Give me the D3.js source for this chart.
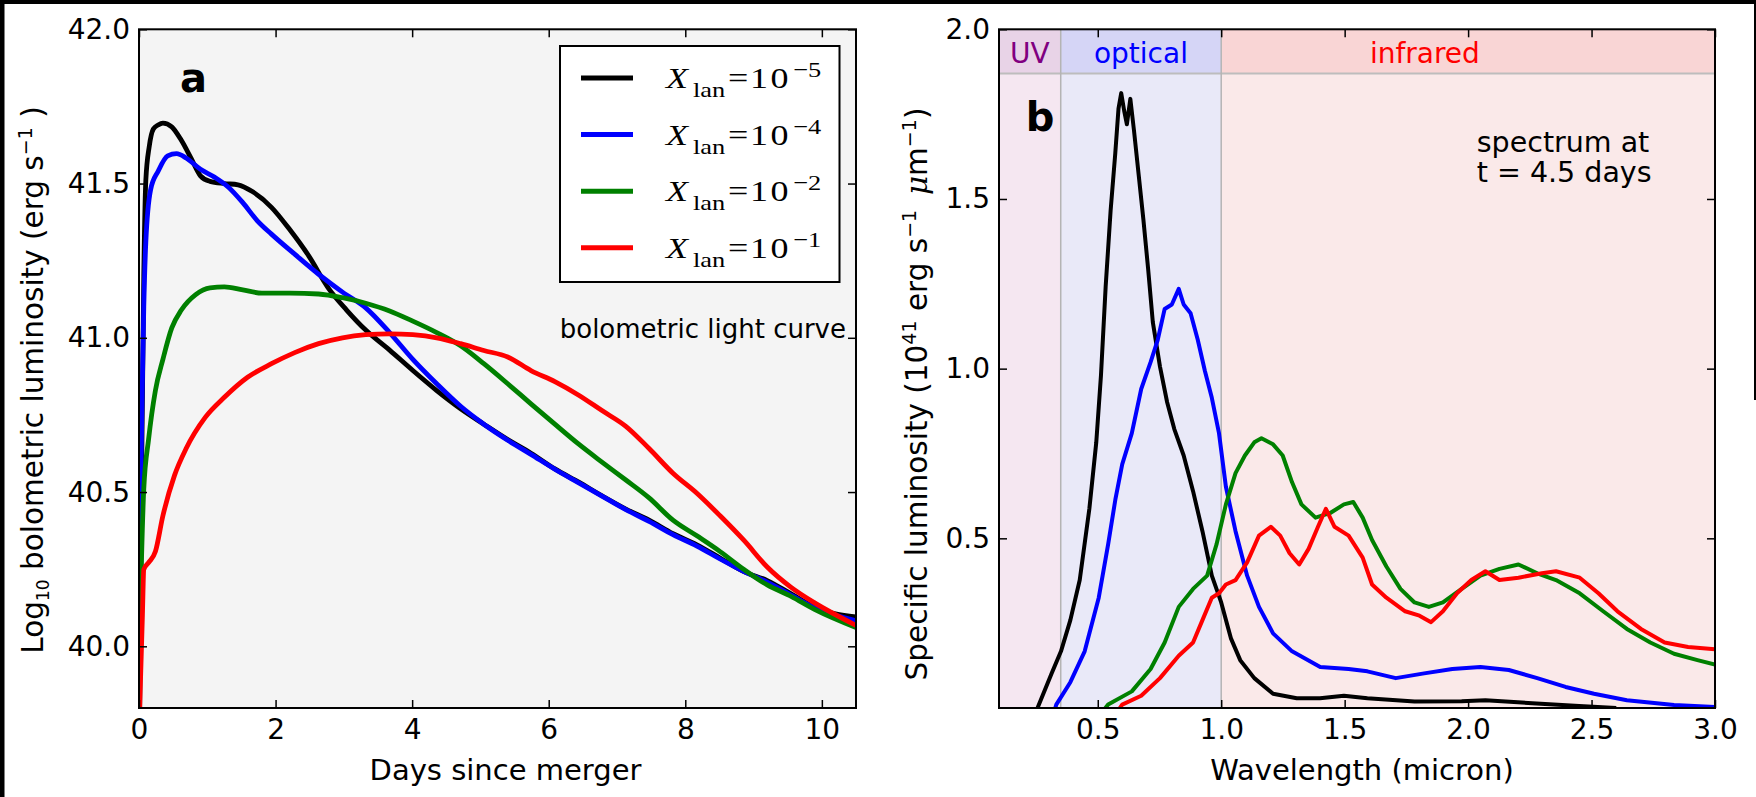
<!DOCTYPE html>
<html>
<head>
<meta charset="utf-8">
<script src="https://cdn.jsdelivr.net/npm/d3@7"></script>
<style>
  body { margin: 0; background: #fff; }
  svg { display: block; font-family: "DejaVu Sans", sans-serif; }
</style>
</head>
<body>
<div id="content"></div>
<script>
// Données

// panel a : bolometric light curves [days, log10 L]
var lcBlack = [[0.01,39.8],[0.04,40.6],[0.07,41.2],[0.1,41.51],[0.15,41.62],[0.21,41.677],[0.28,41.69],[0.35,41.696],[0.48,41.684],[0.62,41.64],[0.76,41.583],[0.9,41.525],[1.04,41.507],[1.25,41.5],[1.45,41.496],[1.66,41.474],[1.94,41.423],[2.21,41.35],[2.49,41.264],[2.77,41.162],[3.04,41.09],[3.32,41.025],[3.67,40.96],[4.01,40.894],[4.36,40.829],[4.71,40.77],[5.05,40.72],[5.4,40.67],[5.74,40.626],[6.09,40.575],[6.44,40.532],[6.78,40.488],[7.13,40.445],[7.47,40.409],[7.82,40.365],[8.17,40.329],[8.51,40.286],[8.86,40.242],[9.2,40.213],[9.55,40.17],[9.9,40.126],[10.5,40.095]];
var lcBlue  = [[0.01,40.3],[0.04,40.73],[0.07,41.1],[0.1,41.31],[0.17,41.48],[0.28,41.54],[0.42,41.59],[0.55,41.597],[0.69,41.583],[0.9,41.546],[1.11,41.52],[1.31,41.488],[1.52,41.438],[1.73,41.38],[1.94,41.336],[2.28,41.271],[2.63,41.206],[2.98,41.148],[3.32,41.097],[3.67,41.017],[4.01,40.93],[4.36,40.851],[4.71,40.778],[5.05,40.72],[5.4,40.668],[5.74,40.622],[6.09,40.574],[6.44,40.53],[6.78,40.487],[7.13,40.443],[7.47,40.405],[7.82,40.362],[8.17,40.325],[8.51,40.283],[8.86,40.242],[9.2,40.208],[9.55,40.166],[9.9,40.124],[10.5,40.083]];
var lcGreen = [[0.01,40.05],[0.07,40.51],[0.14,40.67],[0.24,40.829],[0.35,40.93],[0.48,41.032],[0.62,41.09],[0.83,41.14],[1.04,41.162],[1.25,41.165],[1.52,41.155],[1.8,41.145],[2.21,41.145],[2.63,41.142],[2.98,41.13],[3.32,41.112],[3.67,41.087],[4.01,41.054],[4.36,41.017],[4.71,40.974],[5.05,40.916],[5.4,40.851],[5.74,40.786],[6.09,40.72],[6.44,40.655],[6.78,40.597],[7.13,40.539],[7.47,40.481],[7.82,40.409],[8.17,40.358],[8.51,40.307],[8.86,40.249],[9.2,40.199],[9.55,40.162],[9.9,40.119],[10.5,40.061]];
var lcRed   = [[0.01,39.8],[0.05,40.1],[0.07,40.249],[0.14,40.271],[0.24,40.307],[0.35,40.423],[0.52,40.554],[0.69,40.641],[0.97,40.742],[1.25,40.807],[1.59,40.872],[1.94,40.916],[2.28,40.952],[2.63,40.981],[2.98,41.0],[3.32,41.01],[3.67,41.013],[4.01,41.01],[4.36,41.0],[4.71,40.981],[5.05,40.959],[5.4,40.938],[5.74,40.894],[6.09,40.858],[6.44,40.814],[6.78,40.764],[7.13,40.713],[7.47,40.641],[7.82,40.561],[8.17,40.496],[8.51,40.423],[8.86,40.343],[9.2,40.257],[9.55,40.191],[9.9,40.14],[10.5,40.068]];

// panel b : spectra at t = 4.5 days [micron, 1e41 erg/s/um]
var spBlack = [[0.24,-0.02],[0.256,0.0],[0.313,0.102],[0.351,0.167],[0.389,0.259],[0.427,0.377],[0.466,0.587],[0.494,0.783],[0.513,0.98],[0.532,1.242],[0.552,1.465],[0.571,1.635],[0.584,1.766],[0.595,1.812],[0.607,1.76],[0.618,1.72],[0.632,1.795],[0.647,1.70],[0.666,1.569],[0.685,1.438],[0.704,1.294],[0.723,1.137],[0.752,1.006],[0.781,0.901],[0.81,0.822],[0.848,0.744],[0.886,0.639],[0.924,0.521],[0.962,0.39],[1.0,0.311],[1.039,0.206],[1.077,0.141],[1.134,0.088],[1.21,0.042],[1.306,0.029],[1.40,0.029],[1.497,0.036],[1.592,0.029],[1.783,0.019],[1.974,0.02],[2.07,0.023],[2.26,0.014],[2.45,0.006],[2.6,0.0]];
var spBlue  = [[0.32,-0.02],[0.332,0.01],[0.389,0.076],[0.447,0.167],[0.504,0.325],[0.542,0.482],[0.571,0.613],[0.599,0.718],[0.638,0.81],[0.676,0.94],[0.714,1.019],[0.743,1.085],[0.771,1.176],[0.80,1.189],[0.828,1.235],[0.848,1.189],[0.876,1.163],[0.905,1.085],[0.934,0.993],[0.962,0.914],[0.991,0.81],[1.019,0.652],[1.058,0.521],[1.105,0.39],[1.153,0.298],[1.21,0.22],[1.287,0.167],[1.401,0.121],[1.516,0.115],[1.592,0.108],[1.707,0.088],[1.822,0.102],[1.936,0.115],[2.05,0.121],[2.165,0.112],[2.28,0.088],[2.395,0.062],[2.51,0.042],[2.643,0.023],[2.834,0.009],[3.0,0.003]];
var spGreen = [[0.52,-0.01],[0.542,0.01],[0.638,0.049],[0.714,0.115],[0.771,0.193],[0.828,0.298],[0.886,0.351],[0.943,0.39],[0.981,0.482],[1.019,0.6],[1.058,0.692],[1.096,0.744],[1.134,0.783],[1.163,0.795],[1.21,0.777],[1.249,0.744],[1.287,0.665],[1.325,0.6],[1.382,0.561],[1.44,0.574],[1.497,0.60],[1.535,0.607],[1.573,0.561],[1.611,0.495],[1.669,0.417],[1.726,0.351],[1.783,0.311],[1.841,0.298],[1.898,0.311],[1.974,0.351],[2.05,0.39],[2.127,0.41],[2.204,0.423],[2.28,0.397],[2.356,0.377],[2.452,0.338],[2.547,0.285],[2.643,0.233],[2.738,0.193],[2.834,0.16],[2.929,0.141],[3.0,0.128]];
var spRed   = [[0.58,-0.01],[0.599,0.01],[0.676,0.036],[0.752,0.088],[0.828,0.154],[0.886,0.193],[0.924,0.259],[0.962,0.325],[0.991,0.338],[1.019,0.364],[1.058,0.377],[1.105,0.429],[1.153,0.508],[1.201,0.534],[1.239,0.508],[1.277,0.456],[1.316,0.423],[1.354,0.469],[1.392,0.534],[1.424,0.587],[1.459,0.534],[1.516,0.508],[1.573,0.443],[1.611,0.364],[1.669,0.325],[1.745,0.285],[1.803,0.272],[1.85,0.253],[1.898,0.285],[1.955,0.338],[2.013,0.377],[2.07,0.403],[2.127,0.377],[2.204,0.384],[2.299,0.397],[2.356,0.403],[2.452,0.384],[2.528,0.338],[2.605,0.285],[2.70,0.233],[2.796,0.193],[2.891,0.18],[3.0,0.173]];

var seriesColors = ["#000000", "#0000ff", "#008000", "#ff0000"];
var legendExps   = ["\u22125", "\u22124", "\u22122", "\u22121"];

// bandes UV / optique / infrarouge
var bandNames   = ["UV", "optical", "infrared"];
var bandStarts  = [0.1, 0.35, 1.0];
var bandEnds    = [0.35, 1.0, 3.0];
var bandLabelAt = [0.225, 0.675, 1.825];
var headerFrom  = 1.87;

// ticks
var aXTicks = [0, 2, 4, 6, 8, 10];
var aYTicks = [40.0, 40.5, 41.0, 41.5, 42.0];
var bXTicks = [0.5, 1.0, 1.5, 2.0, 2.5, 3.0];
var bYTicks = [0.5, 1.0, 1.5, 2.0];

// Paramètres graphiques

var W = 1756, H = 797,
    plotTop = 29.3, plotBottom = 708;

var svg = d3.select("#content").append("svg")
    .attr("width", W).attr("height", H);

svg.append("rect").attr("width", W).attr("height", H).attr("fill", "#fff");
// bords noirs de la capture
svg.append("rect").attr("x", 0).attr("y", 0).attr("width", W).attr("height", 4).attr("fill", "#000");
svg.append("rect").attr("x", 0).attr("y", 0).attr("width", 4.5).attr("height", H).attr("fill", "#000");
svg.append("rect").attr("x", W - 2).attr("y", 0).attr("width", 2).attr("height", 400).attr("fill", "#000");

// Échelles

var xa = d3.scaleLinear().domain([0, 10.5]).range([139, 856]),
    ya = d3.scaleLinear().domain([39.8, 42]).range([plotBottom, plotTop]),
    xb = d3.scaleLinear().domain([0.1, 3.0]).range([999, 1715]),
    yb = d3.scaleLinear().domain([0, 2]).range([plotBottom, plotTop]);

var defs = svg.append("defs");
function clip(id, x) {
  defs.append("clipPath").attr("id", id).append("rect")
    .attr("x", x.range()[0]).attr("y", plotTop)
    .attr("width", x.range()[1] - x.range()[0]).attr("height", plotBottom - plotTop);
}
clip("clipA", xa);
clip("clipB", xb);

function axes(x, y, xt, yt, xf, yf) {
  var g = svg.append("g");
  g.append("g").attr("transform", "translate(0," + plotBottom + ")")
    .call(d3.axisBottom(x).tickValues(xt).tickFormat(xf).tickSizeInner(-8).tickSizeOuter(0).tickPadding(11));
  g.append("g").attr("transform", "translate(" + x.range()[0] + ",0)")
    .call(d3.axisLeft(y).tickValues(yt).tickFormat(yf).tickSizeInner(-8).tickSizeOuter(0).tickPadding(9));
  g.append("g").attr("transform", "translate(0," + plotTop + ")")
    .call(d3.axisTop(x).tickValues(xt).tickFormat("").tickSizeInner(-8).tickSizeOuter(0));
  g.append("g").attr("transform", "translate(" + x.range()[1] + ",0)")
    .call(d3.axisRight(y).tickValues(yt).tickFormat("").tickSizeInner(-8).tickSizeOuter(0));
  g.selectAll(".domain").remove();
  g.selectAll(".tick line").attr("stroke", "#000").attr("stroke-width", 1.5);
  g.selectAll("g").attr("font-family", null).attr("font-size", null);
  g.selectAll(".tick text").attr("font-size", 28).attr("fill", "#000");
  svg.append("rect")
    .attr("x", x.range()[0]).attr("y", plotTop)
    .attr("width", x.range()[1] - x.range()[0]).attr("height", plotBottom - plotTop)
    .attr("fill", "none").attr("stroke", "#000").attr("stroke-width", 2);
}

// Panneau a

svg.append("rect")
  .attr("x", 139).attr("y", plotTop).attr("width", 856 - 139).attr("height", plotBottom - plotTop)
  .attr("fill", "#f4f4f4");

var lineA = d3.line().x(d => xa(d[0])).y(d => ya(d[1])).curve(d3.curveMonotoneX);
svg.append("g").attr("clip-path", "url(#clipA)")
  .selectAll("path")
  .data([lcBlack, lcBlue, lcGreen, lcRed])
  .join("path")
    .attr("d", lineA)
    .attr("fill", "none")
    .attr("stroke", (d, i) => seriesColors[i])
    .attr("stroke-width", 4.8)
    .attr("stroke-linejoin", "round");

svg.append("text")
  .attr("x", xa(0.6)).attr("y", ya(41.797))
  .attr("font-size", 40).attr("font-weight", "bold")
  .text("a");

svg.append("text")
  .attr("x", xa(10.5) - 10).attr("y", ya(41.0))
  .attr("text-anchor", "end").attr("font-size", 26)
  .text("bolometric light curve");

// légende
var leg = svg.append("g").attr("transform", "translate(560,46)");
leg.append("rect").attr("width", 279.5).attr("height", 236)
  .attr("fill", "#fff").attr("stroke", "#000").attr("stroke-width", 2);
var entries = leg.selectAll("g.entry")
  .data(legendExps)
  .join("g")
    .attr("class", "entry")
    .attr("transform", (d, i) => "translate(0," + (32 + i * 56.6) + ")");
entries.append("line")
  .attr("x1", 21).attr("x2", 73)
  .attr("stroke", (d, i) => seriesColors[i]).attr("stroke-width", 5);
var lab = entries.append("g").attr("transform", "translate(106,0) scale(1.2,1)")
  .attr("font-family", "'Liberation Serif', serif");
lab.append("text").attr("x", 0).attr("y", 10).attr("font-size", 30).attr("font-style", "italic").text("X");
lab.append("text").attr("x", 22.5).attr("y", 19).attr("font-size", 22).text("lan");
lab.append("text").attr("x", 51.7).attr("y", 10).attr("font-size", 30).text("=");
lab.append("text").attr("x", 70).attr("y", 10).attr("font-size", 30).attr("letter-spacing", 2).text("10");
lab.append("text").attr("x", 106).attr("y", -1).attr("font-size", 22).text(d => d);

axes(xa, ya, aXTicks, aYTicks, d3.format("d"), d3.format(".1f"));

svg.append("text")
  .attr("x", (xa.range()[0] + xa.range()[1]) / 2 + 8).attr("y", 780)
  .attr("text-anchor", "middle").attr("font-size", 29)
  .text("Days since merger");

var yla = svg.append("text")
  .attr("transform", "translate(43,380) rotate(-90)")
  .attr("text-anchor", "middle").attr("font-size", 29.5);
yla.append("tspan").text("Log");
yla.append("tspan").attr("font-size", 17).attr("dy", 6).text("10");
yla.append("tspan").attr("dy", -6).text(" bolometric luminosity (erg s");
yla.append("tspan").attr("font-size", 19).attr("dy", -11).text("\u22121");
yla.append("tspan").attr("dy", 11).text(" )");

// Panneau b

var bodyColors   = ["#f5e7f1", "#e9e9f8", "#fae9e9"],
    headColors   = ["#e8d3e7", "#d5d5f6", "#f9d5d5"],
    bandTextCols = ["#800080", "#0000ff", "#ff0000"];

var bands = svg.append("g").selectAll("g")
  .data(bandNames)
  .join("g");
bands.append("rect")
  .attr("x", (d, i) => xb(bandStarts[i])).attr("y", plotTop)
  .attr("width", (d, i) => xb(bandEnds[i]) - xb(bandStarts[i]))
  .attr("height", plotBottom - plotTop)
  .attr("fill", (d, i) => bodyColors[i]);
bands.append("rect")
  .attr("x", (d, i) => xb(bandStarts[i])).attr("y", plotTop)
  .attr("width", (d, i) => xb(bandEnds[i]) - xb(bandStarts[i]))
  .attr("height", yb(headerFrom) - plotTop)
  .attr("fill", (d, i) => headColors[i]);
svg.append("line")
  .attr("x1", xb(0.1)).attr("x2", xb(3.0))
  .attr("y1", yb(headerFrom)).attr("y2", yb(headerFrom))
  .attr("stroke", "#bdbdbd").attr("stroke-width", 2);
svg.append("g").selectAll("line")
  .data([0.35, 1.0])
  .join("line")
    .attr("x1", d => xb(d)).attr("x2", d => xb(d))
    .attr("y1", plotTop).attr("y2", plotBottom)
    .attr("stroke", "#b4b4b4").attr("stroke-width", 1.5);
bands.append("text")
  .attr("x", (d, i) => xb(bandLabelAt[i])).attr("y", yb(1.9))
  .attr("text-anchor", "middle").attr("font-size", 28)
  .attr("fill", (d, i) => bandTextCols[i])
  .text(d => d);

var lineB = d3.line().x(d => xb(d[0])).y(d => yb(d[1]));
svg.append("g").attr("clip-path", "url(#clipB)")
  .selectAll("path")
  .data([spBlack, spBlue, spGreen, spRed])
  .join("path")
    .attr("d", lineB)
    .attr("fill", "none")
    .attr("stroke", (d, i) => seriesColors[i])
    .attr("stroke-width", 4)
    .attr("stroke-linejoin", "round");

svg.append("text")
  .attr("x", xb(0.208)).attr("y", yb(1.70))
  .attr("font-size", 40).attr("font-weight", "bold")
  .text("b");

svg.append("text")
  .attr("x", xb(2.035)).attr("y", 151.7)
  .attr("font-size", 28.5)
  .text("spectrum at");
svg.append("text")
  .attr("x", xb(2.035)).attr("y", 182)
  .attr("font-size", 28.5)
  .text("t = 4.5 days");

axes(xb, yb, bXTicks, bYTicks, d3.format(".1f"), d3.format(".1f"));

svg.append("text")
  .attr("x", (xb.range()[0] + xb.range()[1]) / 2 + 5).attr("y", 780)
  .attr("text-anchor", "middle").attr("font-size", 29)
  .text("Wavelength (micron)");

var ylb = svg.append("text")
  .attr("transform", "translate(927,394) rotate(-90)")
  .attr("text-anchor", "middle").attr("font-size", 29.5);
ylb.append("tspan").text("Specific luminosity (10");
ylb.append("tspan").attr("font-size", 19).attr("dy", -11).text("41");
ylb.append("tspan").attr("dy", 11).text(" erg s");
ylb.append("tspan").attr("font-size", 19).attr("dy", -11).text("\u22121");
ylb.append("tspan").attr("dy", 11).attr("font-family", "'DejaVu Serif', serif").attr("font-style", "italic").text("\u2002\u03bc");
ylb.append("tspan").text("m");
ylb.append("tspan").attr("font-size", 19).attr("dy", -11).text("\u22121");
ylb.append("tspan").attr("dy", 11).text(")");
</script>
</body>
</html>
